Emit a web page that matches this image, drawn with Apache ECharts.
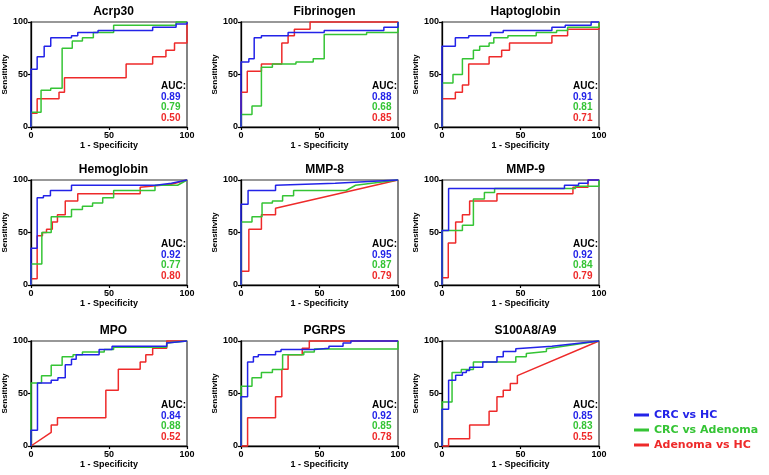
<!DOCTYPE html>
<html>
<head>
<meta charset="utf-8">
<script src="https://cdn.jsdelivr.net/npm/echarts@6/dist/echarts.min.js"></script>
<style>
  html, body { margin: 0; padding: 0; background: #fff; }
  #chart { width: 769px; height: 475px; }
</style>
</head>
<body>
<div id="chart"></div>
<script>
// ROC curves, 9 markers, 3 comparisons each
var seriesNames = ['CRC vs HC', 'CRC vs Adenoma', 'Adenoma vs HC'];
var seriesColors = ['#2323e8', '#35c435', '#ee2a2a'];
var panelTitles = ['Acrp30', 'Fibrinogen', 'Haptoglobin', 'Hemoglobin', 'MMP-8', 'MMP-9', 'MPO', 'PGRPS', 'S100A8/A9'];
var aucCrcHc = ['0.89', '0.88', '0.91', '0.92', '0.95', '0.92', '0.84', '0.92', '0.85'];
var aucCrcAdenoma = ['0.79', '0.68', '0.81', '0.77', '0.87', '0.84', '0.88', '0.85', '0.83'];
var aucAdenomaHc = ['0.50', '0.85', '0.71', '0.80', '0.79', '0.79', '0.52', '0.78', '0.55'];
var xTicks = [0, 50, 100];

// [1 - specificity, sensitivity]
var acrp30CrcHc = [[0,0],[0,55],[4,55],[4,67],[8.5,67],[8.5,77],[12.7,77],[12.7,85],[26,85],[26,87],[30,87],[30,90],[43,90],[43,92],[78,92],[78,95],[93,95],[93,98],[100,98],[100,100]];
var acrp30CrcAdenoma = [[0,0],[0,14],[6.5,14],[6.5,35],[12.7,35],[12.7,37],[20,37],[20,75],[26.5,75],[26.5,82],[33,82],[33,85],[40,85],[40,90],[53,90],[53,97],[93,97],[93,100],[100,100]];
var acrp30AdenomaHc = [[0,0],[0,13],[4,13],[4,27],[18,27],[18,33],[21.5,33],[21.5,47],[61,47],[61,60],[78,60],[78,67],[86.5,67],[86.5,73],[92,73],[92,80],[100,80],[100,100]];

var fibrinogenCrcHc = [[0,0],[0,62],[5,62],[5,65],[8.4,65],[8.4,85],[13,85],[13,87],[30,87],[30,90],[53,90],[53,92],[91,92],[91,95],[100,95],[100,100]];
var fibrinogenCrcAdenoma = [[0,0],[0,12],[7,12],[7,20],[13,20],[13,57],[20,57],[20,60],[35,60],[35,62],[46,62],[46,65],[53,65],[53,88],[80,88],[80,90],[100,90],[100,100]];
var fibrinogenAdenomaHc = [[0,0],[0,33],[4,33],[4,53],[13,53],[13,60],[26,60],[26,80],[30,80],[30,87],[34,87],[34,93],[44,93],[44,100],[100,100]];

var haptoglobinCrcHc = [[0,0],[0,77],[8.5,77],[8.5,85],[17,85],[17,87],[31,87],[31,90],[39,90],[39,92],[70,92],[70,95],[78.5,95],[78.5,97],[95,97],[95,100],[100,100]];
var haptoglobinCrcAdenoma = [[0,0],[0,42],[7,42],[7,50],[13,50],[13,65],[20,65],[20,73],[24,73],[24,77],[30,77],[30,80],[33,80],[33,85],[42,85],[42,87],[60,87],[60,90],[73,90],[73,92],[80,92],[80,95],[100,95],[100,100]];
var haptoglobinAdenomaHc = [[0,0],[0,27],[8.5,27],[8.5,33],[13,33],[13,40],[17,40],[17,60],[30,60],[30,67],[38,67],[38,73],[43,73],[43,80],[70,80],[70,87],[80,87],[80,93],[100,93],[100,100]];

var hemoglobinCrcHc = [[0,0],[0,35],[4,35],[4,83],[8,83],[8,85],[12.5,85],[12.5,90],[26,90],[26,95],[80,95],[90,97],[100,100]];
var hemoglobinCrcAdenoma = [[0,0],[0,20],[7,20],[7,50],[13,50],[13,65],[26,65],[26,72],[33,72],[33,75],[39.5,75],[39.5,78],[46,78],[46,83],[53,83],[53,90],[79.5,90],[79.5,95],[94,95],[100,100]];
var hemoglobinAdenomaHc = [[0,0],[0,6],[4,6],[4,47],[7.4,47],[7.4,50],[10,50],[10,53],[13.7,53],[13.7,60],[17,60],[17,67],[22,67],[22,80],[30,80],[30,87],[70,87],[70,93],[90,96],[100,100]];

var mmp8CrcHc = [[0,0],[0,77],[4.5,77],[4.5,90],[22,90],[22,95],[60,97],[100,100]];
var mmp8CrcAdenoma = [[0,0],[0,60],[7,60],[7,65],[13.4,65],[13.4,78],[20,78],[20,80],[26.5,80],[26.5,85],[33.5,85],[33.5,90],[67,90],[73,95],[100,100]];
var mmp8AdenomaHc = [[0,0],[0,13],[5,13],[5,53],[13,53],[13,67],[22,67],[22,73],[100,100]];

var mmp9CrcHc = [[0,0],[0,52],[4.2,52],[4.2,92],[33.5,92],[78,92],[78,95],[87,95],[87,97],[93,97],[93,100],[100,100]];
var mmp9CrcAdenoma = [[0,0],[0,52],[13,52],[13,57],[20,57],[20,82],[27,82],[27,88],[33.5,88],[33.5,92],[85,92],[85,94],[100,94],[100,100]];
var mmp9AdenomaHc = [[0,0],[0,7],[4,7],[4,40],[8.7,40],[8.7,60],[13,60],[13,67],[17.6,67],[17.6,80],[35,80],[35,87],[83.4,87],[83.4,93],[93,93],[93,100],[100,100]];

var mpoCrcHc = [[0,0],[0,15],[4.2,15],[4.2,60],[13,60],[13,62.7],[17.3,62.7],[17.3,65],[22,65],[22,77.5],[26,77.5],[26,82.6],[29,82.6],[29,87],[43.7,87],[43.7,92],[52,92],[52,95],[87,95],[87,98],[100,100]];
var mpoCrcAdenoma = [[0,0],[0,60],[6.8,60],[6.8,67],[13,67],[13,77],[20,77],[20,85],[27,85],[27,87],[33,87],[33,89.5],[47,89.5],[47,92],[53,92],[53,94],[87,94],[87,98],[100,100]];
var mpoAdenomaHc = [[0,0],[13,13],[13,20],[17,20],[17,27],[48,27],[48,53],[56,53],[56,73],[70,73],[70,80],[73.6,80],[73.6,87],[78,87],[78,93],[87,93],[87,100],[100,100]];

var pgrpsCrcHc = [[0,0],[0,47],[4.2,47],[4.2,80],[7.9,80],[7.9,85],[11,85],[11,87],[22,87],[22,90],[25.5,90],[25.5,92],[46.7,92],[46.7,93],[56,93],[56,95],[65,95],[65,98],[70,98],[70,100],[100,100]];
var pgrpsCrcAdenoma = [[0,0],[0,57],[7,57],[7,65],[13,65],[13,70],[20,70],[20,72.8],[26.5,72.8],[26.5,87],[40,87],[40,89.5],[46.7,89.5],[46.7,92.5],[100,92.5],[100,100]];
var pgrpsAdenomaHc = [[0,0],[4.2,0],[4.2,27],[22,27],[22,47],[26,47],[26,73],[30,73],[30,87],[39,87],[39,93],[43.5,93],[43.5,100],[100,100]];

var s100CrcHc = [[0,0],[0,35],[4.2,35],[4.2,62.7],[8.7,62.7],[8.7,67.4],[13,67.4],[13,70],[15.5,70],[15.5,72],[17.6,72],[17.6,75],[26,75],[26,80],[35,80],[35,85],[39,85],[39,90],[47,90],[47,92.7],[70,95],[100,100]];
var s100CrcAdenoma = [[0,0],[0,42],[6.4,42],[6.4,70],[12.3,70],[12.3,72.8],[20,72.8],[20,80],[47,80],[47,85],[53.7,85],[53.7,88],[66.5,90],[66.5,92.7],[100,100]];
var s100AdenomaHc = [[0,0],[4.2,0],[4.2,7],[17.6,7],[17.6,20],[30,20],[30,33],[35,33],[35,47],[39,47],[39,53],[43.5,53],[43.5,59.5],[48,59.5],[48,67],[100,100]];

var panelCurves = [
  [acrp30CrcHc, acrp30CrcAdenoma, acrp30AdenomaHc],
  [fibrinogenCrcHc, fibrinogenCrcAdenoma, fibrinogenAdenomaHc],
  [haptoglobinCrcHc, haptoglobinCrcAdenoma, haptoglobinAdenomaHc],
  [hemoglobinCrcHc, hemoglobinCrcAdenoma, hemoglobinAdenomaHc],
  [mmp8CrcHc, mmp8CrcAdenoma, mmp8AdenomaHc],
  [mmp9CrcHc, mmp9CrcAdenoma, mmp9AdenomaHc],
  [mpoCrcHc, mpoCrcAdenoma, mpoAdenomaHc],
  [pgrpsCrcHc, pgrpsCrcAdenoma, pgrpsAdenomaHc],
  [s100CrcHc, s100CrcAdenoma, s100AdenomaHc]
];

var FONT = '"Liberation Sans", Arial, sans-serif';
var colLeft = [30, 241, 442];
var rowTop = [22, 180, 341];
var plotW = 157, plotH = 105;

var grids = [], xAxes = [], yAxes = [], titles = [], series = [], graphics = [];

for (var i = 0; i < 9; i++) {
  var gl = colLeft[i % 3], gt = rowTop[Math.floor(i / 3)];
  grids.push({
    left: gl, top: gt, width: plotW, height: plotH,
    show: true, borderColor: '#333', borderWidth: 1.2, backgroundColor: 'transparent'
  });
  var axisCommon = {
    gridIndex: i, type: 'value', min: 0, max: 100, interval: 50,
    splitLine: { show: false },
    axisLine: { show: true, lineStyle: { color: '#000', width: 1.3 } },
    axisTick: { show: true, length: 3, lineStyle: { color: '#000', width: 1.2 } },
    axisLabel: { fontFamily: FONT, fontWeight: 'bold', fontSize: 9, color: '#000', margin: 4 },
    nameLocation: 'middle',
    nameTextStyle: { fontFamily: FONT, fontWeight: 'bold', color: '#000' }
  };
  xAxes.push(Object.assign({}, axisCommon, {
    name: '1 - Specificity', nameGap: 14,
    nameTextStyle: { fontFamily: FONT, fontWeight: 'bold', color: '#000', fontSize: 9 }
  }));
  yAxes.push(Object.assign({}, axisCommon, {
    name: 'Sensitivity', nameGap: 20,
    axisLabel: { fontFamily: FONT, fontWeight: 'bold', fontSize: 9, color: '#000', margin: 3 },
    nameTextStyle: { fontFamily: FONT, fontWeight: 'bold', color: '#000', fontSize: 8 }
  }));
  titles.push({
    text: panelTitles[i], left: gl + plotW / 2, top: gt - 21, textAlign: 'center',
    textStyle: { fontFamily: FONT, fontWeight: 'bold', fontSize: 12, color: '#000' }
  });
  for (var s = 0; s < 3; s++) {
    series.push({
      name: seriesNames[s], type: 'line', xAxisIndex: i, yAxisIndex: i,
      data: panelCurves[i][s], showSymbol: false, clip: false,
      color: seriesColors[s],
      lineStyle: { color: seriesColors[s], width: 1.5 },
      z: 5 - s,
      animation: false
    });
  }
  var aucVals = [aucCrcHc[i], aucCrcAdenoma[i], aucAdenomaHc[i]];
  graphics.push({
    type: 'text', left: gl + 131, top: gt + 59,
    style: { text: 'AUC:', font: 'bold 10px ' + FONT, fill: '#000' }
  });
  for (var k = 0; k < 3; k++) {
    graphics.push({
      type: 'text', left: gl + 131, top: gt + 70 + k * 10.7,
      style: { text: aucVals[k], font: 'bold 10px ' + FONT, fill: seriesColors[k] }
    });
  }
}

var chart = echarts.init(document.getElementById('chart'), null, { renderer: 'canvas' });
chart.setOption({
  backgroundColor: '#fff',
  animation: false,
  title: titles,
  grid: grids,
  xAxis: xAxes,
  yAxis: yAxes,
  legend: {
    orient: 'vertical', left: 629, top: 404,
    icon: 'rect', itemWidth: 15, itemHeight: 3, itemGap: 3,
    selectedMode: false,
    data: seriesNames.map(function (n, idx) {
      return { name: n, textStyle: { color: seriesColors[idx] } };
    }),
    textStyle: { fontFamily: '"DejaVu Sans", sans-serif', fontWeight: 'bold', fontSize: 11, lineHeight: 12 }
  },
  graphic: graphics,
  series: series
});
</script>
</body>
</html>
